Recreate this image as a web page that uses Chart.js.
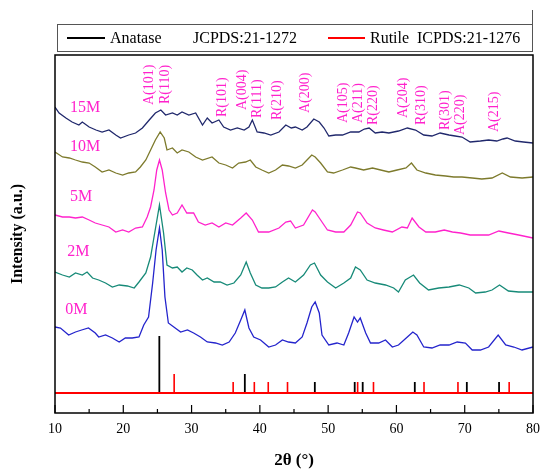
<!DOCTYPE html>
<html lang="en">
<head>
<meta charset="UTF-8">
<title>XRD</title>
<script src="https://cdn.jsdelivr.net/npm/chart.js"></script>
<style>
  body { margin: 0; background: #fff; }
  canvas { display: block; }
</style>
</head>
<body>
<canvas id="xrd" width="550" height="472"></canvas>
<script>
// [2θ, intensity] (a.u., each sample already offset)
const s15M = [[10,301],[10.6,295],[11.6,290],[12.5,286],[13.5,283],[14.0,286],[15.0,281],[16.0,278],[16.9,276],[17.9,278],[18.9,273],[19.6,270],[20.8,273],[21.8,275],[22.8,280],[23.8,288],[24.7,295],[25.5,298],[26.2,293],[27.2,295],[27.9,293],[28.6,296],[29.6,293],[30.6,295],[31.6,283],[32.3,290],[33.0,285],[34.0,288],[34.7,281],[35.7,278],[36.7,280],[37.7,278],[38.4,281],[38.9,288],[39.6,276],[40.6,275],[41.6,273],[42.8,276],[43.8,283],[44.6,280],[45.2,281],[46.2,278],[46.9,281],[47.9,289],[48.7,286],[49.4,280],[50.1,272],[51.1,273],[52.1,273],[53.3,276],[54.5,276],[55.3,279],[56.0,280],[56.9,275],[57.9,276],[58.9,275],[60.3,277],[61.6,280],[62.8,278],[64.0,273],[65.2,272],[66.4,275],[67.7,273],[68.6,272],[69.6,271],[70.8,266],[72.3,267],[73.5,268],[74.7,267],[75.6,269],[76.2,270],[77.4,267],[78.6,266],[80,265]];
const s10M = [[10,256],[11.1,251],[12.1,250],[13.0,248],[14.0,246],[15.0,245],[15.9,241],[16.9,236],[17.9,238],[18.9,235],[19.9,233],[20.8,235],[21.8,236],[22.5,241],[23.3,248],[24.0,258],[24.7,268],[25.4,276],[26.0,270],[26.4,258],[27.2,260],[27.9,255],[28.6,258],[29.6,256],[30.6,251],[31.6,248],[33.0,251],[34.0,245],[35.0,243],[36.0,240],[36.9,245],[37.9,246],[38.6,248],[39.4,241],[40.3,238],[41.3,235],[42.3,238],[43.3,243],[44.2,242],[45.2,240],[46.2,243],[46.9,248],[47.6,253],[48.1,251],[48.9,245],[49.9,236],[50.8,235],[52.1,238],[53.3,241],[54.0,240],[55.2,238],[56.5,240],[57.7,238],[58.9,236],[60.1,238],[61.4,240],[62.2,245],[63.0,238],[64.3,235],[65.7,233],[67.2,232],[68.4,231],[69.6,231],[71.1,230],[72.5,229],[74.0,230],[75.5,235],[76.7,231],[78.4,230],[80,231]];
const s5M = [[10,193],[11.1,191],[12.1,191],[13.0,190],[14.0,191],[15.0,188],[15.9,185],[16.9,183],[17.9,181],[18.9,176],[19.9,178],[20.8,176],[21.8,180],[22.8,181],[23.5,191],[24.0,201],[24.5,218],[24.9,238],[25.3,248],[25.7,238],[26.2,215],[26.7,198],[27.2,193],[27.9,195],[28.6,203],[29.3,195],[30.3,195],[31.0,186],[32.0,183],[33.0,185],[34.0,181],[35.0,185],[36.0,183],[37.2,190],[38.0,195],[38.9,188],[39.8,176],[41.3,176],[42.8,180],[43.8,186],[44.5,187],[45.2,180],[46.4,183],[47.7,198],[48.1,196],[49.1,186],[49.9,178],[51.1,176],[52.3,176],[53.3,183],[54.3,196],[54.7,195],[55.7,185],[56.9,180],[58.1,178],[59.4,176],[60.8,181],[61.6,180],[62.3,190],[63.3,181],[64.3,176],[65.7,176],[67.0,178],[68.2,176],[69.4,175],[70.8,173],[72.0,173],[73.5,173],[75.0,177],[76.4,175],[77.9,173],[80,170]];
const s2M = [[10,136],[11.1,133],[12.1,131],[13.0,135],[14.0,133],[14.7,136],[15.5,130],[16.4,128],[17.4,125],[18.4,121],[19.4,123],[20.6,122],[21.6,120],[22.3,126],[23.3,135],[24.0,151],[24.6,175],[25.3,203],[25.9,175],[26.4,143],[27.2,140],[27.9,141],[28.6,136],[29.3,140],[30.1,138],[30.8,133],[31.6,128],[32.3,130],[33.3,126],[34.2,126],[35.2,123],[36.2,125],[37.2,133],[38.0,146],[38.6,135],[39.4,123],[40.3,120],[41.3,120],[42.3,121],[43.3,126],[44.2,130],[45.2,126],[46.4,133],[47.4,143],[48.0,145],[48.9,133],[49.9,126],[51.1,120],[52.3,125],[53.3,130],[54.0,141],[54.7,138],[55.7,128],[56.9,125],[58.4,123],[59.6,120],[60.3,116],[61.3,128],[62.5,133],[63.4,125],[64.7,118],[66.2,120],[67.7,121],[69.2,123],[70.6,120],[71.6,115],[73.0,116],[74.0,118],[75.1,123],[76.4,117],[77.9,116],[80,116]];
const s0M = [[10,81],[10.8,80],[12.0,73],[13.0,76],[13.9,78],[14.9,80],[15.9,75],[16.4,71],[17.4,73],[18.4,70],[19.4,66],[20.3,70],[21.3,70],[22.3,71],[23.0,83],[23.7,91],[24.3,125],[24.8,158],[25.3,180],[25.7,158],[26.1,111],[26.6,85],[27.4,81],[28.4,76],[29.4,78],[30.3,75],[31.3,71],[32.3,66],[33.5,65],[34.5,63],[35.5,66],[36.4,75],[37.2,88],[37.8,98],[38.4,80],[39.1,71],[40.1,68],[41.3,61],[42.3,63],[43.3,68],[44.2,66],[45.2,65],[46.2,71],[46.9,85],[47.6,101],[48.1,106],[48.7,95],[49.1,73],[50.1,63],[51.3,65],[52.3,63],[53.0,75],[53.8,91],[54.3,86],[54.7,90],[55.5,75],[56.2,65],[57.4,65],[58.4,68],[59.4,61],[60.3,63],[61.6,71],[62.4,76],[63.0,73],[64.0,61],[65.2,60],[66.4,63],[67.7,63],[68.9,66],[70.1,65],[71.1,58],[72.3,58],[73.5,61],[74.9,73],[76.0,63],[77.2,61],[78.4,58],[80,61]];

// reference patterns (stick positions and heights)
const anataseAngles = [25.28, 37.8, 48.05, 53.89, 55.06, 62.69, 70.31, 75.03];
const anataseHeights = [72, 34, 26, 26, 26, 26, 26, 26];
const rutileAngles = [27.45, 36.09, 39.19, 41.23, 44.05, 54.32, 56.64, 64.04, 69.01, 76.51];
const rutileHeights = [34, 26, 26, 26, 26, 26, 26, 26, 26, 26];
const refBase = 15;

const sampleNames = ['15M', '10M', '5M', '2M', '0M'];
const sampleLabelAt = [[12.2, 300], [12.2, 261], [12.2, 211], [11.8, 156], [11.5, 98]];

const peakNames = ['A(101)', 'R(110)', 'R(101)', 'A(004)', 'R(111)', 'R(210)', 'A(200)', 'A(105)', 'A(211)', 'R(220)', 'A(204)', 'R(310)', 'R(301)', 'A(220)', 'A(215)'];
const peakLabelAt = [[23.8, 303], [26.1, 304], [34.45, 291], [37.4, 298], [39.7, 290], [42.5, 288], [46.6, 295], [52.2, 285], [54.4, 285], [56.6, 283], [61.0, 290], [63.7, 283], [67.1, 278], [69.3, 273], [74.4, 276]];

const xTicks = [10, 20, 30, 40, 50, 60, 70, 80];
const xMinorTicks = [15, 25, 35, 45, 55, 65, 75];

const serif = "'Liberation Serif', 'Times New Roman', serif";
const pink = '#ff22cc';

function toPoints(pairs) {
    return pairs.map(p => ({ x: p[0], y: p[1] }));
}
function sticks(angles, heights) {
    const pts = [];
    angles.forEach((a, i) => {
        pts.push({ x: a, y: refBase }, { x: a, y: heights[i] }, { x: a, y: null });
    });
    return pts;
}
function line(data, color, width) {
    return { data: data, borderColor: color, borderWidth: width, pointRadius: 0, tension: 0, spanGaps: false, fill: false };
}

const extras = {
    id: 'extras',
    afterDraw(chart) {
        const ctx = chart.ctx;
        const a = chart.chartArea;
        const sx = chart.scales.x, sy = chart.scales.y;
        ctx.save();
        // frame
        ctx.strokeStyle = '#000';
        ctx.lineWidth = 1.5;
        ctx.strokeRect(a.left, a.top, a.right - a.left, a.bottom - a.top);
        // inward ticks
        ctx.lineWidth = 1.2;
        ctx.beginPath();
        xTicks.forEach(t => { const x = sx.getPixelForValue(t); ctx.moveTo(x, a.bottom); ctx.lineTo(x, a.bottom - 8); });
        xMinorTicks.forEach(t => { const x = sx.getPixelForValue(t); ctx.moveTo(x, a.bottom); ctx.lineTo(x, a.bottom - 4); });
        ctx.stroke();

        // legend
        ctx.strokeStyle = '#555';
        ctx.lineWidth = 1;
        ctx.strokeRect(57.5, 24.5, 475, 27);
        ctx.beginPath();
        ctx.moveTo(532.5, 10); ctx.lineTo(532.5, 24);
        ctx.stroke();
        ctx.lineWidth = 2;
        ctx.strokeStyle = '#000';
        ctx.beginPath(); ctx.moveTo(67, 38); ctx.lineTo(105, 38); ctx.stroke();
        ctx.strokeStyle = '#ff0000';
        ctx.beginPath(); ctx.moveTo(328, 38); ctx.lineTo(365, 38); ctx.stroke();
        ctx.fillStyle = '#000';
        ctx.font = '16px ' + serif;
        ctx.textBaseline = 'middle';
        ctx.textAlign = 'left';
        ctx.fillText('Anatase', 110, 39);
        ctx.fillText('JCPDS:21-1272', 193, 39);
        ctx.fillText('Rutile', 370, 39);
        ctx.fillText('ICPDS:21-1276', 417, 39);

        // sample names
        ctx.fillStyle = pink;
        ctx.font = '16px ' + serif;
        sampleNames.forEach((n, i) => {
            ctx.fillText(n, sx.getPixelForValue(sampleLabelAt[i][0]), sy.getPixelForValue(sampleLabelAt[i][1]));
        });
        // peak indices, rotated
        ctx.font = '14px ' + serif;
        peakNames.forEach((n, i) => {
            ctx.save();
            ctx.translate(sx.getPixelForValue(peakLabelAt[i][0]), sy.getPixelForValue(peakLabelAt[i][1]));
            ctx.rotate(-Math.PI / 2);
            ctx.fillText(n, 0, 0);
            ctx.restore();
        });
        ctx.restore();
    }
};

new Chart(document.getElementById('xrd'), {
    type: 'line',
    data: {
        datasets: [
            line([{ x: 10, y: refBase }, { x: 80, y: refBase }], '#ff0000', 2),
            line(sticks(rutileAngles, rutileHeights), '#ff0000', 1.6),
            line(sticks(anataseAngles, anataseHeights), '#000000', 1.8),
            line(toPoints(s0M), '#2424cc', 1.3),
            line(toPoints(s2M), '#178a78', 1.3),
            line(toPoints(s5M), pink, 1.3),
            line(toPoints(s10M), '#7d7a2c', 1.3),
            line(toPoints(s15M), '#20286c', 1.3)
        ]
    },
    options: {
        responsive: false,
        animation: false,
        devicePixelRatio: 1,
        layout: { padding: { top: 55, right: 17, left: 0, bottom: 0 } },
        plugins: { legend: { display: false }, tooltip: { enabled: false } },
        scales: {
            x: {
                type: 'linear',
                min: 10,
                max: 80,
                offset: false,
                afterFit: s => { s.height = 59; },
                afterBuildTicks: s => { s.ticks = xTicks.map(v => ({ value: v })); },
                border: { display: false },
                grid: { display: false, drawTicks: false },
                ticks: { color: '#000', padding: 8, maxRotation: 0, font: { family: serif, size: 14 } },
                title: { display: true, text: '2θ (°)', color: '#000', padding: { top: 0, bottom: 1 }, font: { family: serif, size: 17, weight: 'bold' } }
            },
            y: {
                min: -5,
                max: 353,
                afterFit: s => { s.width = 55; },
                border: { display: false },
                grid: { display: false, drawTicks: false },
                ticks: { display: false },
                title: { display: true, text: 'Intensity (a.u.)', color: '#000', padding: { top: 8, bottom: 0 }, font: { family: serif, size: 16, weight: 'bold' } }
            }
        }
    },
    plugins: [extras]
});
</script>
</body>
</html>
